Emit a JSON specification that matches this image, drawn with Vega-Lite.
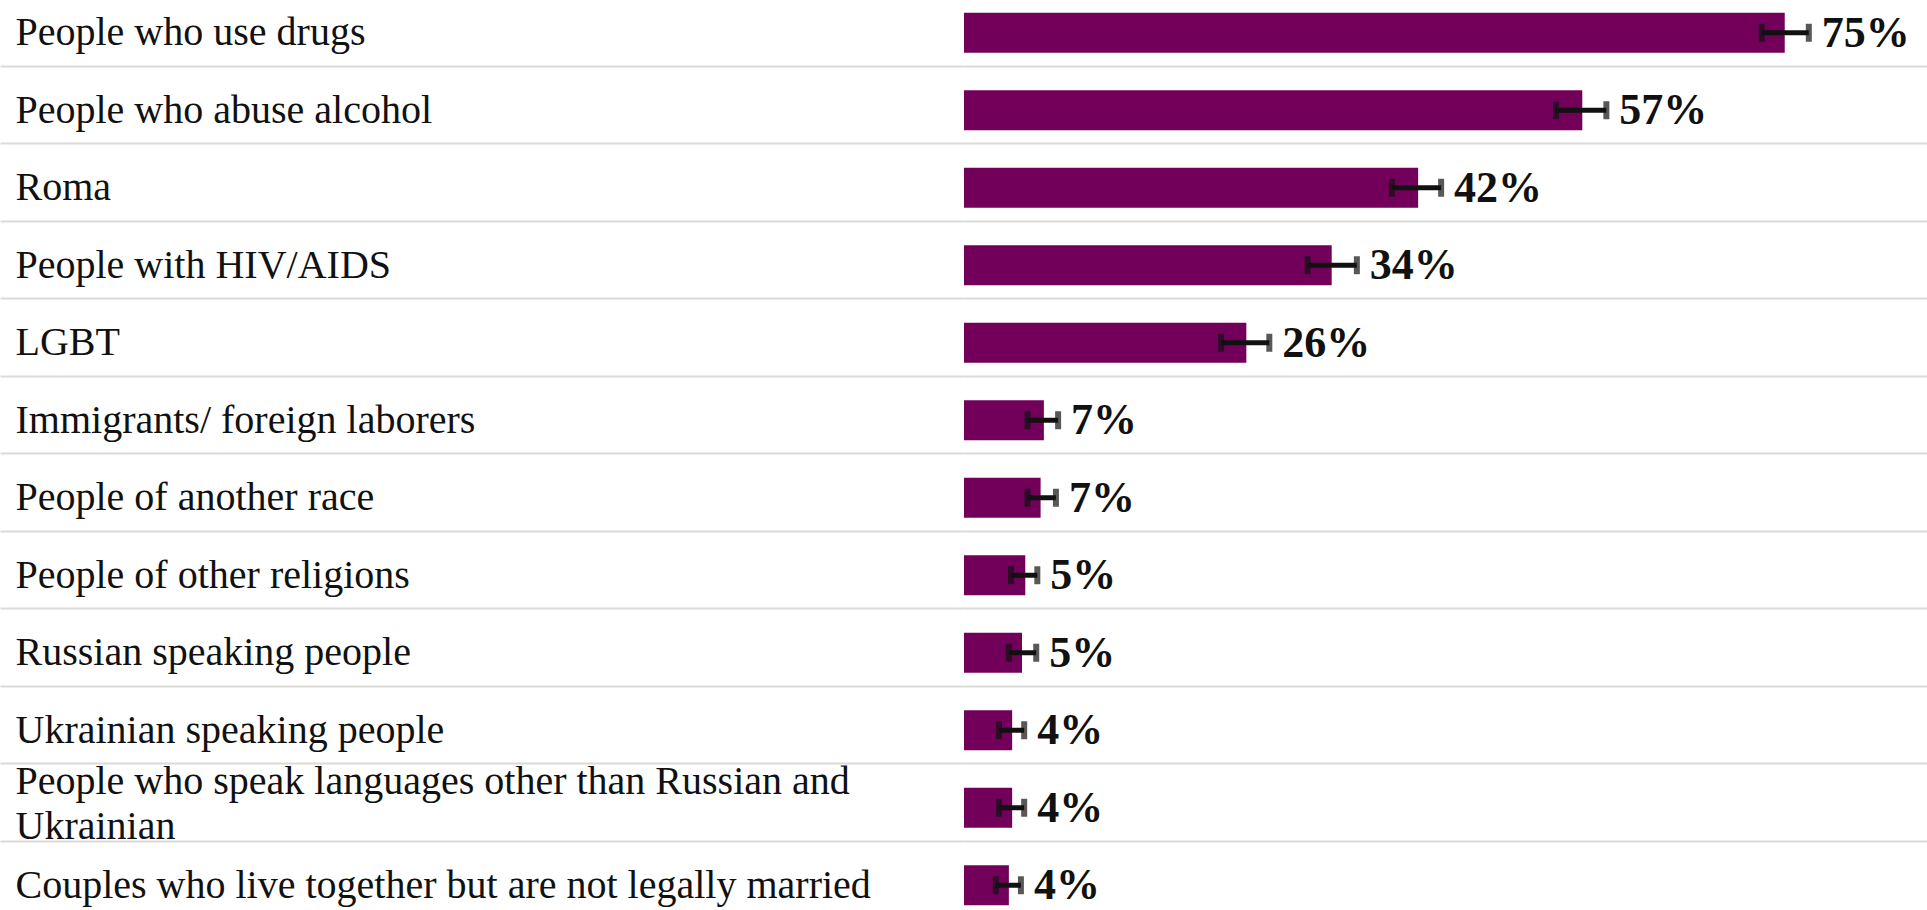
{
  "$schema": "https://vega.github.io/schema/vega-lite/v6.json",
  "autosize": {"type": "none"},
  "padding": {"left": 964, "top": -12, "right": 0, "bottom": 0},
  "width": 963,
  "height": 930,
  "background": "white",
  "config": {"view": {"stroke": null}},
  "data": {
    "values": [
      {"category": "People who use drugs", "value": 75.0, "low": 72.9, "high": 77.2, "label": "75%"},
      {"category": "People who abuse alcohol", "value": 56.5, "low": 54.1, "high": 58.7, "label": "57%"},
      {"category": "Roma", "value": 41.5, "low": 39.1, "high": 43.6, "label": "42%"},
      {"category": "People with HIV/AIDS", "value": 33.6, "low": 31.4, "high": 35.9, "label": "34%"},
      {"category": "LGBT", "value": 25.8, "low": 23.5, "high": 27.9, "label": "26%"},
      {"category": "Immigrants/ foreign laborers", "value": 7.3, "low": 5.8, "high": 8.6, "label": "7%"},
      {"category": "People of another race", "value": 7.0, "low": 5.8, "high": 8.4, "label": "7%"},
      {"category": "People of other religions", "value": 5.6, "low": 4.3, "high": 6.7, "label": "5%"},
      {"category": "Russian speaking people", "value": 5.3, "low": 4.1, "high": 6.6, "label": "5%"},
      {"category": "Ukrainian speaking people", "value": 4.4, "low": 3.2, "high": 5.5, "label": "4%"},
      {"category": "People who speak languages other than Russian and Ukrainian", "value": 4.4, "low": 3.2, "high": 5.5, "label": "4%"},
      {"category": "Couples who live together but are not legally married", "value": 4.1, "low": 2.9, "high": 5.2, "label": "4%"}
    ]
  },
  "encoding": {
    "y": {
      "field": "category",
      "type": "nominal",
      "sort": null,
      "scale": {"paddingInner": 0, "paddingOuter": 0},
      "axis": {
        "title": null,
        "orient": "left",
        "domain": false,
        "ticks": true,
        "tickBand": "extent",
        "tickSize": 964,
        "tickColor": "#dcdad5",
        "tickWidth": 2,
        "grid": true,
        "gridColor": "#dcdad5",
        "gridWidth": 2,
        "labelAlign": "left",
        "labelBaseline": "middle",
        "labelPadding": -15,
        "labelOffset": {"condition": {"test": "datum.value == 'People who speak languages other than Russian and Ukrainian'", "value": -20}, "value": 6},
        "labelFont": "Liberation Serif",
        "labelFontSize": 40,
        "labelColor": "#111111",
        "labelLimit": 0,
        "labelLineHeight": 45,
        "labelExpr": "datum.value == 'People who speak languages other than Russian and Ukrainian' ? ['People who speak languages other than Russian and', 'Ukrainian'] : datum.label"
      }
    }
  },
  "layer": [
    {
      "mark": {"type": "bar", "color": "#72005a", "yOffset": 6, "height": {"band": 0.516}},
      "encoding": {
        "x": {"field": "value", "type": "quantitative", "scale": {"domain": [0, 88], "nice": false, "zero": true}, "axis": null}
      }
    },
    {
      "mark": {"type": "rule", "color": "#111111", "strokeWidth": 5, "yOffset": 6},
      "encoding": {
        "x": {"field": "low", "type": "quantitative"},
        "x2": {"field": "high"}
      }
    },
    {
      "mark": {"type": "tick", "color": "#111111", "size": 18, "thickness": 6, "yOffset": 6},
      "encoding": {
        "x": {"field": "low", "type": "quantitative"}
      }
    },
    {
      "mark": {"type": "tick", "color": "#111111", "size": 18, "thickness": 6, "yOffset": 6},
      "encoding": {
        "x": {"field": "high", "type": "quantitative"}
      }
    },
    {
      "mark": {"type": "text", "align": "left", "baseline": "middle", "dx": 13, "yOffset": 7, "font": "Liberation Serif", "fontWeight": "bold", "fontSize": 44, "color": "#111111"},
      "encoding": {
        "x": {"field": "high", "type": "quantitative"},
        "text": {"field": "label"}
      }
    }
  ]
}
